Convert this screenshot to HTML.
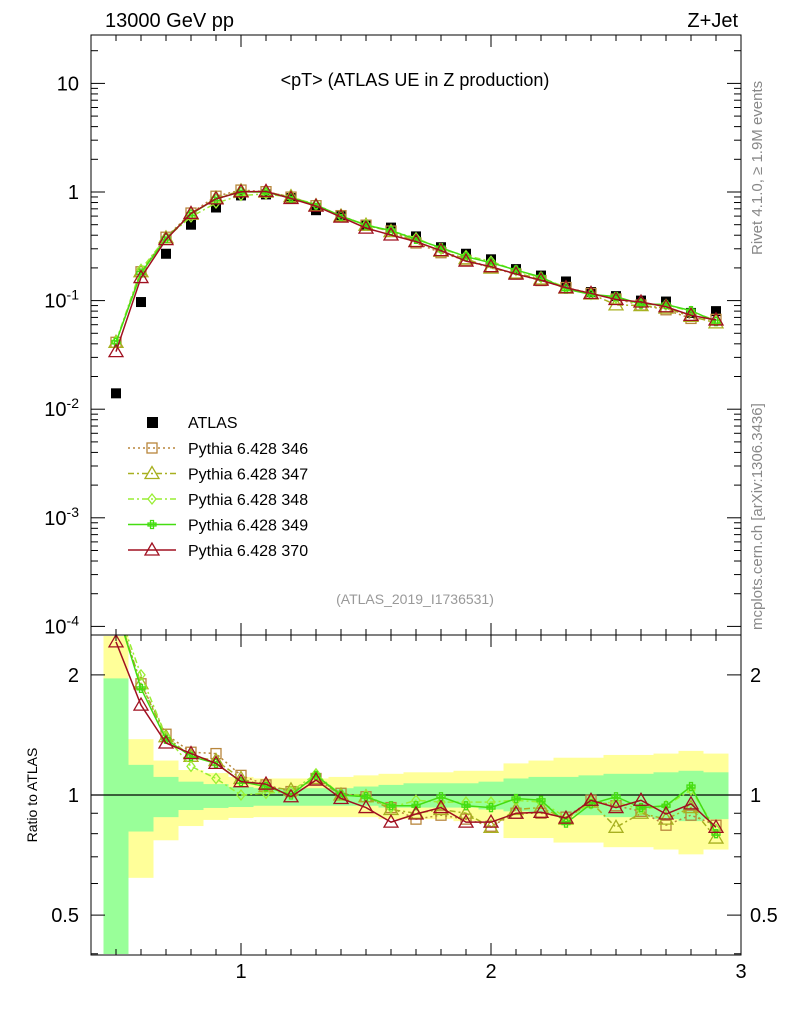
<!DOCTYPE html>
<html><head><meta charset="utf-8">
<style>
body{margin:0;background:#fff;}
svg{display:block;font-family:"Liberation Sans",Arial,sans-serif;}
</style></head>
<body>
<svg id="chart" width="786" height="1024" viewBox="0 0 786 1024" xmlns="http://www.w3.org/2000/svg">
<rect x="0" y="0" width="786" height="1024" fill="#fff"/>
<g id="bands"></g>
<g id="grid"></g>
<g id="series"></g>
<rect x="91" y="35" width="650" height="600" fill="none" stroke="#000" stroke-width="1"/>
<rect x="91" y="635" width="650" height="320" fill="none" stroke="#000" stroke-width="1"/>
<text x="105" y="27" font-size="20">13000 GeV pp</text>
<text x="738" y="27" font-size="20" text-anchor="end">Z+Jet</text>
<text x="415" y="86" font-size="18" text-anchor="middle">&lt;pT&gt; (ATLAS UE in Z production)</text>
<text x="415" y="604" font-size="14" fill="#999" text-anchor="middle">(ATLAS_2019_I1736531)</text>
<text transform="translate(762,255) rotate(-90)" font-size="15" fill="#888">Rivet 4.1.0, ≥ 1.9M events</text>
<text transform="translate(762,630) rotate(-90)" font-size="15" fill="#888">mcplots.cern.ch [arXiv:1306.3436]</text>
<text transform="translate(37,795) rotate(-90)" font-size="14" text-anchor="middle">Ratio to ATLAS</text>
<g id="legend"></g>
</svg>
<script>
const xs=[0.5,0.6,0.7,0.8,0.9,1.0,1.1,1.2,1.3,1.4,1.5,1.6,1.7,1.8,1.9,2.0,2.1,2.2,2.3,2.4,2.5,2.6,2.7,2.8,2.9];
const atlas=[0.014,0.097,0.27,0.5,0.72,0.93,0.95,0.88,0.68,0.6,0.5,0.47,0.39,0.31,0.27,0.24,0.195,0.17,0.15,0.12,0.11,0.1,0.098,0.077,0.08];
const r346=[2.95,1.9,1.42,1.28,1.27,1.12,1.06,1.02,1.1,1.01,0.99,0.93,0.87,0.89,0.87,0.835,0.9,0.9,0.88,0.97,0.94,0.91,0.84,0.89,0.84];
const r347=[2.95,1.9,1.4,1.25,1.22,1.1,1.05,1.03,1.1,1.0,0.99,0.92,0.9,0.92,0.9,0.83,0.92,0.93,0.87,0.96,0.83,0.9,0.87,0.93,0.78];
const r348=[3.0,2.0,1.4,1.18,1.1,1.0,1.01,1.02,1.13,1.0,1.0,0.93,0.97,0.96,0.96,0.96,0.97,0.96,0.88,0.95,0.96,0.92,0.94,1.03,0.82];
const r349=[2.95,1.85,1.38,1.25,1.2,1.08,1.05,1.0,1.12,1.0,0.99,0.94,0.94,0.99,0.94,0.93,0.98,0.97,0.85,0.95,0.99,0.93,0.94,1.05,0.80];
const r370=[2.42,1.68,1.35,1.27,1.2,1.08,1.065,0.99,1.09,0.98,0.93,0.855,0.896,0.93,0.855,0.855,0.9,0.905,0.875,0.97,0.93,0.97,0.896,0.95,0.83];
const greenHi=[1.96,1.19,1.11,1.08,1.065,1.047,1.04,1.04,1.04,1.04,1.05,1.06,1.07,1.07,1.07,1.08,1.1,1.11,1.11,1.12,1.13,1.13,1.14,1.15,1.14];
const greenLo=[0.3,0.81,0.88,0.917,0.928,0.933,0.94,0.94,0.94,0.94,0.94,0.93,0.93,0.93,0.93,0.92,0.91,0.9,0.89,0.89,0.88,0.88,0.87,0.86,0.87];
const yellowHi=[2.6,1.38,1.22,1.155,1.135,1.11,1.1,1.1,1.1,1.11,1.12,1.13,1.14,1.14,1.15,1.15,1.2,1.22,1.24,1.24,1.26,1.26,1.27,1.29,1.27];
const yellowLo=[0.3,0.62,0.77,0.836,0.866,0.876,0.88,0.88,0.88,0.88,0.88,0.87,0.87,0.87,0.86,0.86,0.78,0.78,0.76,0.76,0.74,0.74,0.73,0.71,0.73];
const mainTicks=["10^-4","10^-3","10^-2","10^-1","1","10"];
const ratioTicks=[0.5,1,2];
const xTicks=[1,2,3];

const NS="http://www.w3.org/2000/svg";
const X=v=>91+(v-0.4)*250;
const Y=v=>192-Math.log10(v)*108.6;
const R=v=>795-Math.log10(v)*399;
function mk(tag,attrs,parent){const e=document.createElementNS(NS,tag);for(const k in attrs)e.setAttribute(k,attrs[k]);parent.appendChild(e);return e;}
const bands=document.getElementById('bands'),grid=document.getElementById('grid'),ser=document.getElementById('series'),leg=document.getElementById('legend');
const clipR=v=>Math.max(636,Math.min(954,R(v)));

// bands
xs.forEach((x,i)=>{
  let y1=clipR(yellowHi[i]),y2=clipR(yellowLo[i]);
  let e=mk('rect',{x:X(x-0.05),y:y1,width:25,height:y2-y1,fill:'#ffff99'},bands);
  
  
  y1=clipR(greenHi[i]);y2=clipR(greenLo[i]);
  e=mk('rect',{x:X(x-0.05),y:y1,width:25,height:y2-y1,fill:'#99ff99'},bands);
  
  
});
let ln=mk('line',{x1:91,x2:741,y1:R(1),y2:R(1),stroke:'#000','stroke-width':1.3},grid);



// x ticks
for(let k=5;k<=29;k++){const v=k/10;const major=(k%10===0);const L=major?12:6;
  mk('line',{x1:X(v),x2:X(v),y1:955,y2:955-L,stroke:'#000'},grid);
  mk('line',{x1:X(v),x2:X(v),y1:635,y2:635+L,stroke:'#000'},grid);
  mk('line',{x1:X(v),x2:X(v),y1:635,y2:635-L,stroke:'#000'},grid);
  mk('line',{x1:X(v),x2:X(v),y1:35,y2:35+L,stroke:'#000'},grid);
}
xTicks.forEach(v=>{const t=mk('text',{x:X(v),y:978,'font-size':20,'text-anchor':'middle'},grid);t.textContent=v;
  
  });
// main y ticks
for(let d=-4;d<=1;d++){
  for(let m=1;m<10;m++){const v=m*Math.pow(10,d);const y=Y(v);if(y<36||y>634)continue;const L=m===1?14:7;
    mk('line',{x1:91,x2:91+L,y1:y,y2:y,stroke:'#000'},grid);mk('line',{x1:741,x2:741-L,y1:y,y2:y,stroke:'#000'},grid);}
}
mainTicks.forEach((lab,i)=>{const d=i-4;const y=Y(Math.pow(10,d));const t=mk('text',{x:79,y:y+7,'font-size':20,'text-anchor':'end'},grid);
  
  
  if(d===0)t.textContent='1';else if(d===1)t.textContent='10';
  else{t.textContent='10';const s=mk('tspan',{dy:-8,'font-size':14},t);s.textContent=String(d);}});
// ratio ticks
[0.4,0.5,0.6,0.7,0.8,0.9,1,2].forEach(v=>{const y=R(v);if(y>954)return;const L=(v===0.5||v===1||v===2)?14:7;
  mk('line',{x1:91,x2:91+L,y1:y,y2:y,stroke:'#000'},grid);mk('line',{x1:741,x2:741-L,y1:y,y2:y,stroke:'#000'},grid);});
ratioTicks.forEach(v=>{[[79,'end'],[750,'start']].forEach(([xx,an])=>{const t=mk('text',{x:xx,y:R(v)+7,'font-size':20,'text-anchor':an},grid);t.textContent=v;
  
  });});

function marker(type,x,y,col,parent){
  if(type==='sq')return mk('rect',{x:x-5,y:y-5,width:10,height:10,fill:'none',stroke:col,'stroke-width':1.3},parent);
  if(type==='tri')return mk('polygon',{points:`${x},${y-7} ${x-7},${y+5} ${x+7},${y+5}`,fill:'none',stroke:col,'stroke-width':1.3},parent);
  if(type==='dia')return mk('polygon',{points:`${x},${y-5} ${x-4},${y} ${x},${y+5} ${x+4},${y}`,fill:'none',stroke:col,'stroke-width':1.3},parent);
  if(type==='cross')return mk('path',{d:`M${x-4},${y-1.5}h8v3h-8z M${x-1.5},${y-4}v8h3v-8z`,fill:'none',stroke:col,'stroke-width':1.3},parent);
}
const series=[
 {name:'Pythia 6.428 346',r:r346,col:'#b8863b',dash:'2,3',m:'sq',key:'346'},
 {name:'Pythia 6.428 347',r:r347,col:'#a8b020',dash:'6,3,2,3',m:'tri',key:'347'},
 {name:'Pythia 6.428 348',r:r348,col:'#99ee33',dash:'6,3,2,3',m:'dia',key:'348'},
 {name:'Pythia 6.428 349',r:r349,col:'#44dd11',dash:'',m:'cross',key:'349'},
 {name:'Pythia 6.428 370',r:r370,col:'#a01020',dash:'',m:'tri',key:'370'}];

// ATLAS main
xs.forEach((x,i)=>{const e=mk('rect',{x:X(x)-5,y:Y(atlas[i])-5,width:10,height:10,fill:'#000'},ser);
  
  });

series.forEach(s=>{
  const g=mk('g',{},ser);
  
  
  const mp=xs.map((x,i)=>`${X(x)},${Y(atlas[i]*s.r[i])}`).join(' ');
  mk('polyline',{points:mp,fill:'none',stroke:s.col,'stroke-width':1.5,'stroke-dasharray':s.dash},g);
  xs.forEach((x,i)=>marker(s.m,X(x),Y(atlas[i]*s.r[i]),s.col,g));
  const cg=mk('g',{'clip-path':'url(#rclip)'},g);
  const rp=xs.map((x,i)=>`${X(x)},${R(s.r[i])}`).join(' ');
  mk('polyline',{points:rp,fill:'none',stroke:s.col,'stroke-width':1.5,'stroke-dasharray':s.dash},cg);
  xs.forEach((x,i)=>marker(s.m,X(x),R(s.r[i]),s.col,cg));
});
const defs=mk('defs',{},document.getElementById('chart'));
const cp=mk('clipPath',{id:'rclip'},defs);mk('rect',{x:91,y:635,width:650,height:320},cp);

// legend
let e=mk('rect',{x:147,y:417,width:11,height:11,fill:'#000'},leg);


let t=mk('text',{x:188,y:428,'font-size':16},leg);t.textContent='ATLAS';


series.forEach((s,k)=>{const y=448+k*25.5;
  mk('line',{x1:128,x2:176,y1:y,y2:y,stroke:s.col,'stroke-width':1.5,'stroke-dasharray':s.dash},leg);
  marker(s.m,152,y,s.col,leg);
  const tt=mk('text',{x:188,y:y+6,'font-size':16},leg);tt.textContent=s.name;
  
  });
</script>
</body></html>
